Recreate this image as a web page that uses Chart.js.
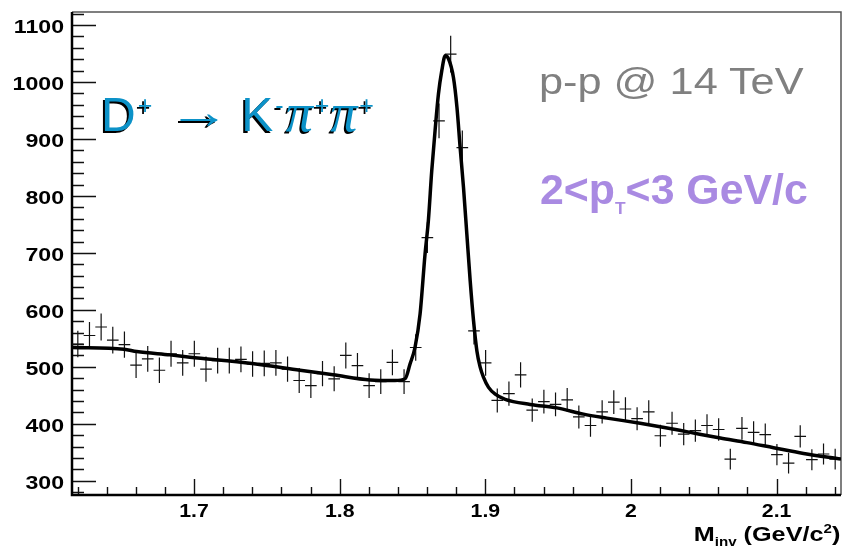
<!DOCTYPE html>
<html>
<head>
<meta charset="utf-8">
<script src="https://cdn.jsdelivr.net/npm/chart.js@4.4.1/dist/chart.umd.min.js"></script>
<style>
  html, body { margin: 0; padding: 0; background: #fff; }
  #wrap { position: relative; width: 843px; height: 550px; overflow: hidden; }
  #c { position: absolute; left: 0; top: 0; }
  .lbl { position: absolute; white-space: nowrap; line-height: 1; font-family: "Liberation Sans", Arial, sans-serif; transform-origin: 0 0; }
  .sup, .sub { position: relative; }
  #decay { left: 101px; top: 86px; font-size: 48px; color: #0c92c8; text-shadow: -2px 2px 0 #000; }
  #decay .sup { font-size: 25px; top: -17px; margin: 0 1px 0 2px; }
  #decay .pi { font-family: "Liberation Serif", serif; font-style: italic; font-size: 54px; }
  #decay .k { margin-left: 0; }
  #decay .pi1 { margin-left: 1px; }
  #decay .arr { display: inline-block; font-size: 48px; margin: 0 18px 0 22px; transform: scaleX(1.3); transform-origin: 50% 50%; position: relative; top: -3px; }
  #beam { left: 539px; top: 63px; font-size: 37px; color: #808080; transform: scaleX(1.17); }
  #ptbin { left: 540px; top: 169px; font-size: 42px; font-weight: bold; color: #a98ae2; transform: scaleX(1.02); }
  #ptbin .sub { font-size: 17px; top: 10px; }
  #xtitle { right: 3px; top: 524px; font-size: 20px; font-weight: bold; color: #000; transform-origin: 100% 0; transform: scaleX(1.26); }
  #xtitle .sub { font-size: 12px; top: 5px; }
  #xtitle .sup { font-size: 12px; top: -8px; }
</style>
</head>
<body>
<div id="wrap">
  <canvas id="c" width="843" height="550"></canvas>
  <div id="decay" class="lbl">D<span class="sup">+</span><span class="arr">→</span>K<span class="sup">-</span><span class="pi pi1">π</span><span class="sup">+</span><span class="pi">π</span><span class="sup">+</span></div>
  <div id="beam" class="lbl">p-p @ 14 TeV</div>
  <div id="ptbin" class="lbl">2&lt;p<span class="sub">T</span>&lt;3 GeV/c</div>
  <div id="xtitle" class="lbl">M<span class="sub">inv</span> (GeV/c<span class="sup">2</span>)</div>
</div>
<script>
// Invariant-mass spectrum of K- pi+ pi+ candidates (D+ signal region)
const massMin = 1.6162;          // lower edge of the histogram, GeV/c^2
const massMax = 2.1442;          // upper edge of the histogram, GeV/c^2
const countsMin = 275;           // y-axis range
const countsMax = 1123;

// entries per bin (66 bins)
const counts = [
  540, 555, 570, 547, 539, 503, 514, 494, 523, 507,
  523, 496, 511, 511, 513, 505, 506, 507, 496, 476,
  467, 488, 479, 520, 502, 467, 474, 508, 474, 534,
  727, 932, 1049, 885, 563, 507, 441, 453, 486, 424,
  439, 434, 442, 412, 397, 421, 438, 426, 409, 421,
  379, 401, 382, 388, 397, 390, 338, 392, 385, 381,
  346, 331, 378, 337, 347, 338
];

// fitted signal + background curve
const fitMass = [
  1.6162, 1.6519, 1.6606, 1.6835, 1.6972, 1.7398, 1.7728, 1.7955, 1.8209, 1.8380,
  1.8449, 1.8483, 1.8517, 1.8552, 1.8586, 1.8609, 1.8632, 1.8655, 1.8678, 1.8701,
  1.8724, 1.8747, 1.8781, 1.8805, 1.8827, 1.8850, 1.8873, 1.8896, 1.8919, 1.8942,
  1.8965, 1.8987, 1.9022, 1.9068, 1.9136, 1.9308, 1.9491, 1.9674, 1.9835, 2.0063,
  2.0200, 2.0406, 2.0613, 2.0796, 2.0979, 2.1185, 2.1442
];
const fitCounts = [
  534, 531, 527, 521, 517, 506, 494, 486, 477, 476,
  479, 505, 534, 593, 698, 757, 844, 915, 979, 1020,
  1046, 1041, 1008, 956, 885, 815, 733, 651, 581, 528,
  499, 482, 464, 452, 443, 434, 428, 417, 410, 401,
  395, 385, 375, 367, 358, 348, 338
];

// axis labels
const yTicks = [300, 400, 500, 600, 700, 800, 900, 1000, 1100];
const xTicks = [1.7, 1.8, 1.9, 2.0, 2.1];
const xTickLabels = ['1.7', '1.8', '1.9', '2', '2.1'];

const binWidth = (massMax - massMin) / counts.length;

// frame with inward major/minor ticks, error crosses and tick labels
const framePlugin = {
  id: 'rootFrame',
  beforeDatasetsDraw(chart) {
    const { ctx, chartArea: a, scales: { x, y } } = chart;
    ctx.save();
    // top and right frame lines
    ctx.strokeStyle = '#555';
    ctx.lineWidth = 1.5;
    ctx.beginPath();
    ctx.moveTo(a.left, a.top); ctx.lineTo(a.right, a.top); ctx.lineTo(a.right, a.bottom);
    ctx.stroke();

    // y ticks every 20, major every 100
    ctx.strokeStyle = '#111';
    ctx.lineWidth = 1.4;
    ctx.beginPath();
    for (let v = Math.ceil(countsMin / 20) * 20; v <= countsMax; v += 20) {
      const py = Math.round(y.getPixelForValue(v)) + 0.5;
      const len = v % 100 === 0 ? 24 : 12;
      ctx.moveTo(a.left, py); ctx.lineTo(a.left + len, py);
    }
    // x ticks every 0.02, major every 0.1
    for (let k = Math.ceil(massMin / 0.02 - 1e-6); k * 0.02 <= massMax + 1e-9; k++) {
      const px = Math.round(x.getPixelForValue(k * 0.02)) + 0.5;
      const len = k % 5 === 0 ? 16 : 8;
      ctx.moveTo(px, a.bottom); ctx.lineTo(px, a.bottom - len);
    }
    ctx.stroke();

    // axis lines
    ctx.strokeStyle = '#000';
    ctx.lineWidth = 2.5;
    ctx.beginPath();
    ctx.moveTo(a.left, a.top); ctx.lineTo(a.left, a.bottom); ctx.lineTo(a.right, a.bottom);
    ctx.stroke();

    // statistical error crosses: bin width horizontally, sqrt(N) vertically
    const meta = chart.getDatasetMeta(0);
    ctx.beginPath();
    ctx.rect(a.left, a.top, a.right - a.left, a.bottom - a.top);
    ctx.clip();
    ctx.strokeStyle = '#111';
    ctx.lineWidth = 1.2;
    ctx.beginPath();
    counts.forEach((n, i) => {
      const pt = meta.data[i];
      const lo = massMin + i * binWidth;
      const err = Math.sqrt(n);
      ctx.moveTo(x.getPixelForValue(lo), pt.y);
      ctx.lineTo(x.getPixelForValue(lo + binWidth), pt.y);
      ctx.moveTo(pt.x, y.getPixelForValue(n - err));
      ctx.lineTo(pt.x, y.getPixelForValue(n + err));
    });
    ctx.stroke();
    ctx.restore();
  },
  afterDraw(chart) {
    const { ctx, chartArea: a, scales: { x, y } } = chart;
    ctx.save();
    ctx.fillStyle = '#000';
    ctx.font = 'bold 18.5px "Liberation Sans", Arial, sans-serif';
    ctx.textBaseline = 'alphabetic';
    ctx.textAlign = 'right';
    yTicks.forEach(v => {
      ctx.save();
      ctx.translate(a.left - 8, y.getPixelForValue(v) + 8);
      ctx.scale(1.25, 1);
      ctx.fillText(String(v), 0, 0);
      ctx.restore();
    });
    ctx.textAlign = 'center';
    xTicks.forEach((v, i) => {
      ctx.save();
      ctx.translate(x.getPixelForValue(v), a.bottom + 22);
      ctx.scale(1.15, 1);
      ctx.fillText(xTickLabels[i], 0, 0);
      ctx.restore();
    });
    ctx.restore();
  }
};

new Chart(document.getElementById('c'), {
  type: 'scatter',
  data: {
    datasets: [
      {
        label: 'data',
        data: counts.map((n, i) => ({ x: massMin + (i + 0.5) * binWidth, y: n })),
        pointRadius: 0,
        showLine: false
      },
      {
        label: 'fit',
        data: fitMass.map((m, i) => ({ x: m, y: fitCounts[i] })),
        showLine: true,
        borderColor: '#000',
        borderWidth: 3.5,
        pointRadius: 0,
        cubicInterpolationMode: 'monotone',
        fill: false
      }
    ]
  },
  options: {
    responsive: false,
    animation: false,
    devicePixelRatio: 1,
    layout: { padding: { top: 12, right: 2, left: 0, bottom: 0 } },
    plugins: { legend: { display: false }, tooltip: { enabled: false } },
    scales: {
      x: {
        type: 'linear', min: massMin, max: massMax,
        grid: { display: false }, border: { display: false },
        ticks: { display: false },
        afterFit(s) { s.height = 55; }
      },
      y: {
        type: 'linear', min: countsMin, max: countsMax,
        grid: { display: false }, border: { display: false },
        ticks: { display: false },
        afterFit(s) { s.width = 72; }
      }
    }
  },
  plugins: [framePlugin]
});
</script>
</body>
</html>
